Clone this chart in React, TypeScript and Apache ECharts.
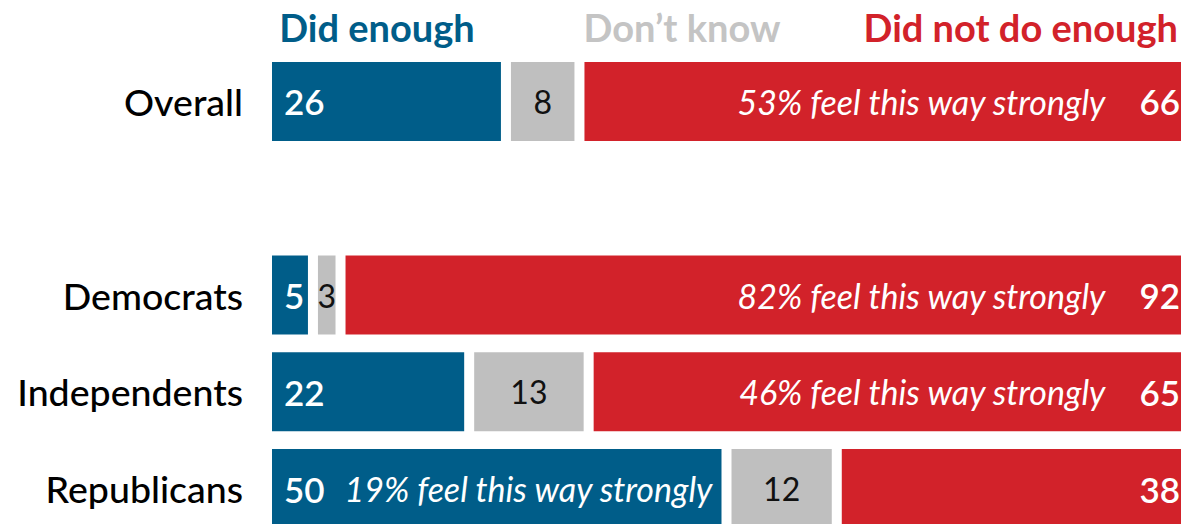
import React, { useEffect, useRef } from "react";
import * as echarts from "echarts";

const categories = ["Overall", "", "Democrats", "Independents", "Republicans"];
const didEnough = [26, null, 5, 22, 50];
const dontKnow = [8, null, 3, 13, 12];
const didNotDoEnough = [66, null, 92, 65, 38];
const strongDidEnough = [null, null, null, null, 19];
const strongDidNot = [53, null, 82, 46, null];
const legendLabels = ["Did enough", "Don\u2019t know", "Did not do enough"];

const BLUE = "#005d89";
const GREY = "#bfbfbf";
const RED = "#d2222a";
const FONT = "Lato, 'Noto Sans', sans-serif";

export default function App() {
  const ref = useRef<HTMLDivElement>(null);
  useEffect(() => {
    if (!ref.current) return;
    const chart = echarts.init(ref.current, null, { renderer: "svg" });
    const toData = (arr: (number | null)[]) => arr.map((v) => (v == null ? "-" : v));
    const common = {
      type: "bar",
      stack: "total",
      barWidth: 89,
      itemStyle: { borderColor: "#ffffff", borderWidth: 5 },
    };
    const valueRich = { fontSize: 35, fontWeight: 600, color: "#ffffff", fontFamily: FONT };
    const italicRich = {
      fontSize: 34,
      fontStyle: "italic",
      color: "#ffffff",
      fontFamily: FONT,
    };
    chart.setOption({
      animation: false,
      textStyle: { fontFamily: FONT },
      grid: { left: 267, top: 53, width: 924, height: 484, containLabel: false },
      xAxis: {
        type: "value",
        min: 0,
        max: 100,
        show: false,
      },
      yAxis: {
        type: "category",
        data: categories,
        inverse: true,
        axisLine: { show: false },
        axisTick: { show: false },
        splitLine: { show: false },
        axisLabel: {
          fontSize: 37.5,
          color: "#000000",
          fontFamily: FONT,
          fontWeight: 500,
          margin: 24,
        },
      },
      graphic: [
        {
          type: "text",
          x: 377,
          y: 27,
          style: {
            text: legendLabels[0],
            fill: BLUE,
            font: `bold 38px ${FONT}`,
            textAlign: "center",
            textVerticalAlign: "middle",
          },
        },
        {
          type: "text",
          x: 682,
          y: 27,
          style: {
            text: legendLabels[1],
            fill: "#c4c4c4",
            font: `bold 38px ${FONT}`,
            textAlign: "center",
            textVerticalAlign: "middle",
          },
        },
        {
          type: "text",
          x: 1178,
          y: 27,
          style: {
            text: legendLabels[2],
            fill: RED,
            font: `bold 38px ${FONT}`,
            textAlign: "right",
            textVerticalAlign: "middle",
          },
        },
      ],
      series: [
        {
          ...common,
          name: legendLabels[0],
          data: toData(didEnough),
          itemStyle: { ...common.itemStyle, color: BLUE },
          label: {
            show: true,
            position: "insideLeft",
            distance: 17,
            formatter: (p: any) => {
              const v = didEnough[p.dataIndex];
              if (v == null) return "";
              const s = strongDidEnough[p.dataIndex];
              return s != null
                ? `{v|${v}}{i|${s}% feel this way strongly}`
                : `{v|${v}}`;
            },
            rich: {
              v: valueRich,
              i: { ...italicRich, padding: [0, 0, 0, 20] },
            },
          },
        },
        {
          ...common,
          name: legendLabels[1],
          data: toData(dontKnow),
          itemStyle: { ...common.itemStyle, color: GREY },
          label: {
            show: true,
            position: "inside",
            color: "#111111",
            fontSize: 32,
            fontFamily: FONT,
            formatter: (p: any) => {
              const v = dontKnow[p.dataIndex];
              return v == null ? "" : `${v}`;
            },
          },
        },
        {
          ...common,
          name: legendLabels[2],
          data: toData(didNotDoEnough),
          itemStyle: { ...common.itemStyle, color: RED },
          label: {
            show: true,
            position: "insideRight",
            distance: 6,
            formatter: (p: any) => {
              const v = didNotDoEnough[p.dataIndex];
              if (v == null) return "";
              const s = strongDidNot[p.dataIndex];
              return s != null
                ? `{i|${s}% feel this way strongly}{v|${v}}`
                : `{v|${v}}`;
            },
            rich: {
              v: valueRich,
              i: { ...italicRich, padding: [0, 34, 0, 0] },
            },
          },
        },
      ],
    });
    return () => chart.dispose();
  }, []);
  return (
    <div
      style={{
        position: "absolute",
        left: 0,
        top: 0,
        width: 1186,
        height: 524,
        overflow: "hidden",
      }}
    >
      <div ref={ref} style={{ width: 1186, height: 545 }} />
    </div>
  );
}
